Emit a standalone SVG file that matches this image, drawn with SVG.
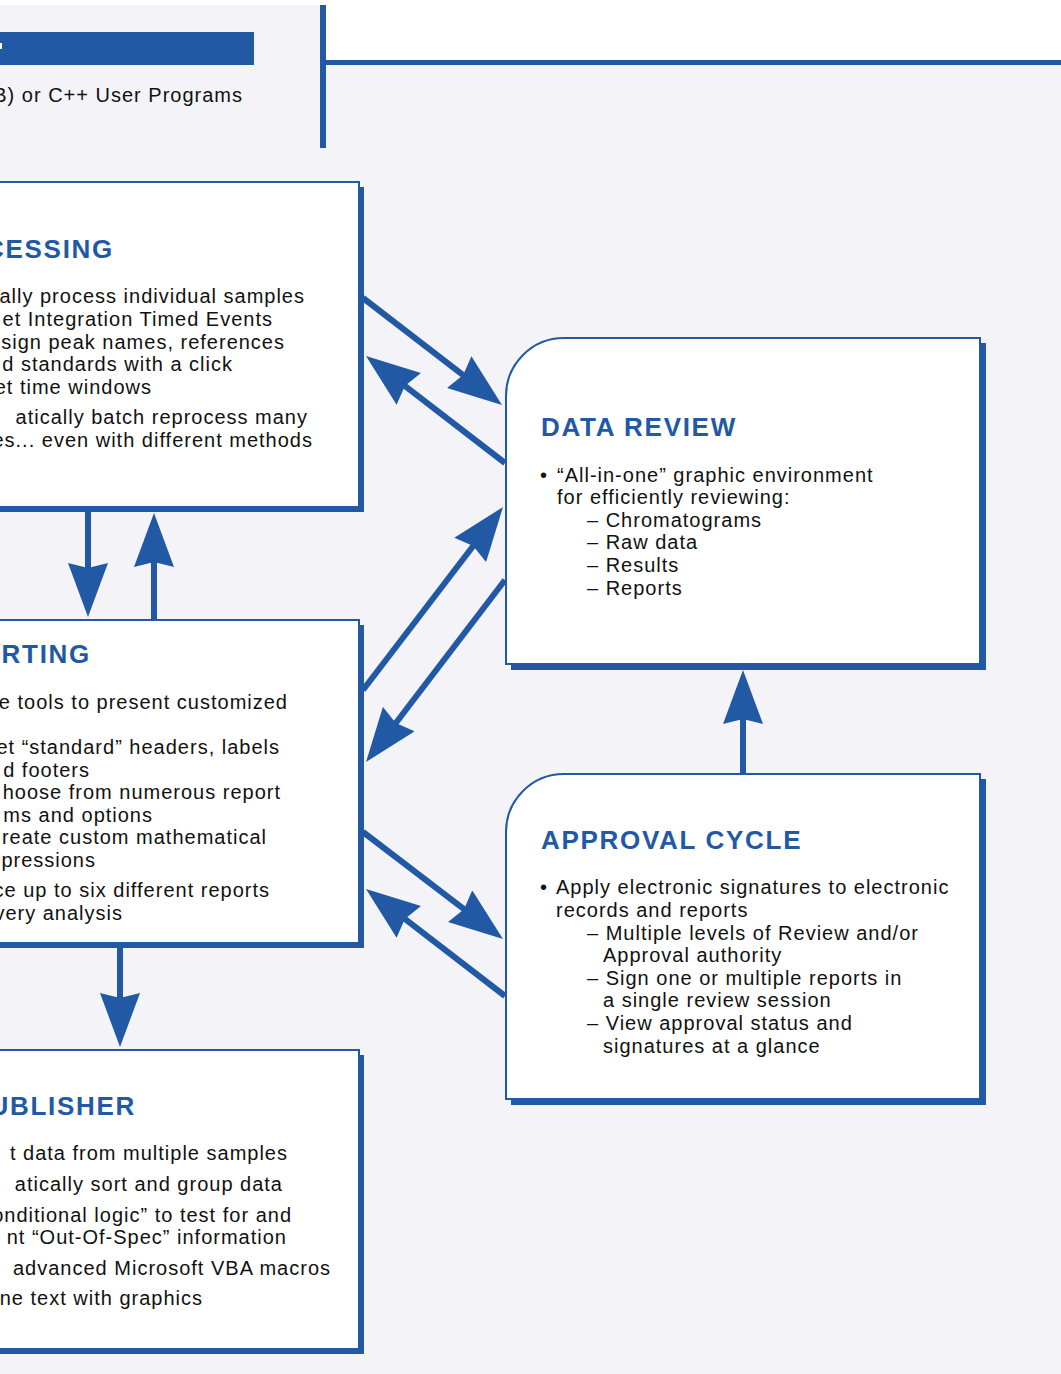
<svg xmlns="http://www.w3.org/2000/svg" width="1061" height="1374" viewBox="0 0 1061 1374">
<style>
.bg{fill:#f3f3f8}
.blue{fill:#2159a5}
.box{fill:#ffffff;stroke:#2159a5;stroke-width:2}
.shadow{fill:#2159a5}
.title{font-family:"Liberation Sans",Arial,sans-serif;font-weight:bold;font-size:26px;fill:#2159a5;letter-spacing:1.7px}
.body{font-family:"Liberation Sans",Arial,sans-serif;font-size:20px;fill:#111111;letter-spacing:1px}
.end{text-anchor:end}
.conn{stroke:#2159a5;stroke-width:6;fill:none;marker-end:url(#ah)}
</style>
<defs>
<marker id="ah" markerUnits="userSpaceOnUse" viewBox="0 0 54 40" markerWidth="54" markerHeight="40" refX="14" refY="20" orient="auto">
<path d="M0,0 L54,20 L0,40 L5,20 Z" fill="#2159a5"/>
</marker>
</defs>
<rect class="bg" x="0" y="0" width="1061" height="1374"/>
<rect x="0" y="0" width="1061" height="5" fill="#ffffff"/>
<rect x="326" y="0" width="735" height="60" fill="#ffffff"/>

<g id="header">
<rect class="blue" x="0" y="32" width="254" height="33"/>
<rect x="0" y="43" width="2" height="6" fill="#ffffff"/>
<text class="body end" x="243" y="102">B) or C++ User Programs</text>
<rect class="blue" x="320" y="5" width="6" height="143"/>
<rect class="blue" x="326" y="60" width="735" height="5"/>
</g>

<g id="connectors">
<line class="conn" x1="363" y1="298" x2="470.3" y2="380.6"/>
<line class="conn" x1="505" y1="463" x2="397.7" y2="380.4"/>
<line class="conn" x1="363" y1="690" x2="478.7" y2="538.8"/>
<line class="conn" x1="505" y1="580" x2="390.3" y2="730.2"/>
<line class="conn" x1="363" y1="832" x2="471.2" y2="914.7"/>
<line class="conn" x1="505" y1="996" x2="397.7" y2="913.4"/>
<line class="conn" x1="88" y1="510" x2="88" y2="577"/>
<line class="conn" x1="154" y1="620" x2="154" y2="553"/>
<line class="conn" x1="743" y1="775" x2="743" y2="710"/>
<line class="conn" x1="120" y1="947" x2="120" y2="1007"/>
</g>

<g id="processing">
<rect class="shadow" x="-15" y="187" width="379" height="325"/>
<rect class="box" x="-20" y="182" width="379" height="325"/>
<text class="title end" x="114" y="258">CESSING</text>
<text class="body end" x="305" y="303">cally process individual samples</text>
<text class="body end" x="273" y="326">et Integration Timed Events</text>
<text class="body end" x="285" y="349">ssign peak names, references</text>
<text class="body end" x="233" y="371">d standards with a click</text>
<text class="body end" x="152" y="394">et time windows</text>
<text class="body end" x="308" y="424">atically batch reprocess many</text>
<text class="body end" x="313" y="447">es... even with different methods</text>
</g>

<g id="reporting">
<rect class="shadow" x="-15" y="625" width="379" height="323"/>
<rect class="box" x="-20" y="620" width="379" height="323"/>
<text class="title end" x="91" y="663">RTING</text>
<text class="body end" x="288" y="709">e tools to present customized</text>
<text class="body end" x="280" y="754">et “standard” headers, labels</text>
<text class="body end" x="90" y="777">d footers</text>
<text class="body end" x="281" y="799">hoose from numerous report</text>
<text class="body end" x="153" y="822">ms and options</text>
<text class="body end" x="267" y="844">reate custom mathematical</text>
<text class="body end" x="96" y="867">pressions</text>
<text class="body end" x="270" y="897">ce up to six different reports</text>
<text class="body end" x="123" y="920">very analysis</text>
</g>

<g id="publisher">
<rect class="shadow" x="-15" y="1055" width="379" height="299"/>
<rect class="box" x="-20" y="1050" width="379" height="299"/>
<text class="title end" x="136" y="1115">UBLISHER</text>
<text class="body end" x="288" y="1160">t data from multiple samples</text>
<text class="body end" x="283" y="1191">atically sort and group data</text>
<text class="body end" x="292" y="1222">onditional logic” to test for and</text>
<text class="body end" x="287" y="1244">nt  “Out-Of-Spec” information</text>
<text class="body end" x="331" y="1275">advanced Microsoft VBA macros</text>
<text class="body end" x="203" y="1305">ne text with graphics</text>
</g>

<g id="data-review">
<path class="shadow" d="M511,401 A58,58 0 0 1 569,343 L986,343 L986,670 L511,670 Z"/>
<path class="box" d="M506,396 A58,58 0 0 1 564,338 L980,338 L980,664 L506,664 Z"/>
<text class="title" x="541" y="436">DATA REVIEW</text>
<text class="body" x="540" y="482">•</text>
<text class="body" x="557" y="482">“All-in-one” graphic environment</text>
<text class="body" x="557" y="504">for efficiently reviewing:</text>
<text class="body" x="587" y="527">– Chromatograms</text>
<text class="body" x="587" y="549">– Raw data</text>
<text class="body" x="587" y="572">– Results</text>
<text class="body" x="587" y="595">– Reports</text>
</g>

<g id="approval-cycle">
<path class="shadow" d="M511,837 A58,58 0 0 1 569,779 L986,779 L986,1105 L511,1105 Z"/>
<path class="box" d="M506,832 A58,58 0 0 1 564,774 L980,774 L980,1099 L506,1099 Z"/>
<text class="title" x="541" y="849">APPROVAL CYCLE</text>
<text class="body" x="540" y="894">•</text>
<text class="body" x="556" y="894">Apply electronic signatures to electronic</text>
<text class="body" x="556" y="917">records and reports</text>
<text class="body" x="587" y="940">– Multiple levels of Review and/or</text>
<text class="body" x="603" y="962">Approval authority</text>
<text class="body" x="587" y="985">– Sign one or multiple reports in</text>
<text class="body" x="603" y="1007">a  single review session</text>
<text class="body" x="587" y="1030">– View approval status and</text>
<text class="body" x="603" y="1053">signatures at a glance</text>
</g>
</svg>
